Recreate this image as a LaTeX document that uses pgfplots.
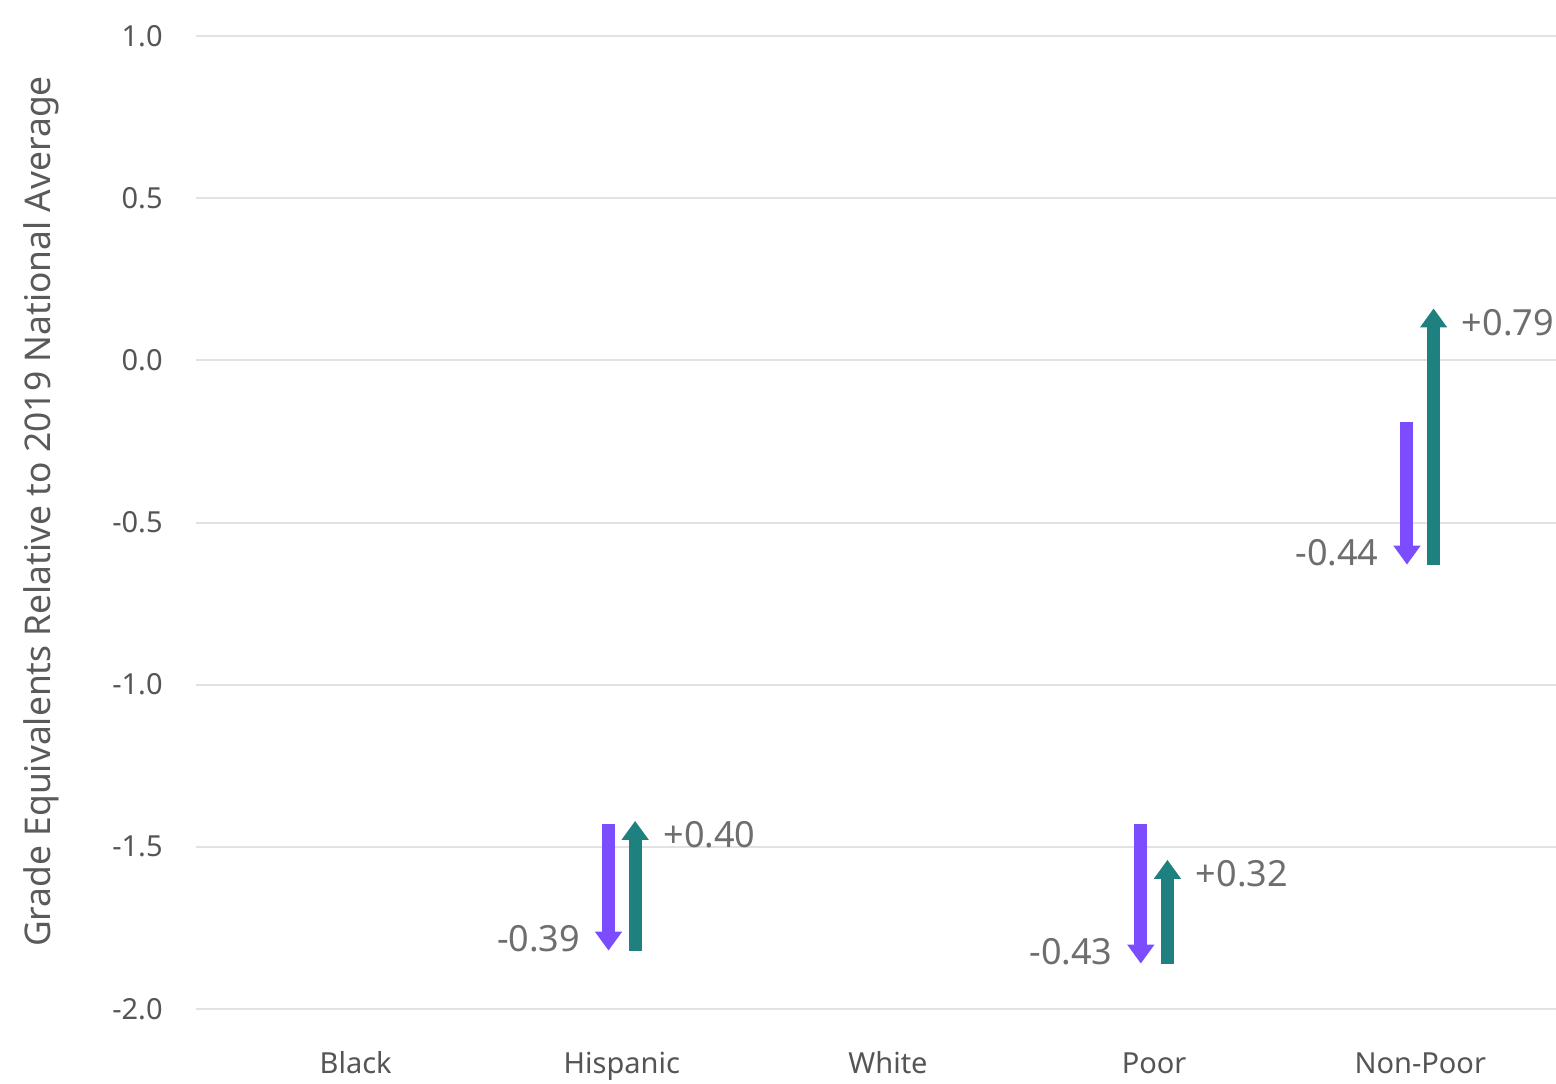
\documentclass[border=0pt]{standalone}
\usepackage{fontspec}
\setmainfont{Noto Sans}
\usepackage{pgfplots}
\usepackage{pgfplotstable}
\pgfplotsset{compat=1.18}
\usetikzlibrary{arrows.meta,calc}
\definecolor{purp}{HTML}{7C4DFF}
\definecolor{tealc}{HTML}{1F8080}
\definecolor{gridc}{HTML}{E2E2E2}
\definecolor{tickc}{HTML}{555555}
\definecolor{ylabc}{HTML}{5A5A5A}
\definecolor{labc}{HTML}{6E6E6E}

% drop (purple): start y, change dy, end, label
\pgfplotstableread{
x    y     dy     yend   label
0.95 -1.43 -0.39  -1.82  -0.39
2.95 -1.43 -0.43  -1.86  -0.43
3.95 -0.19 -0.44  -0.63  -0.44
}\drops
% rebound (teal)
\pgfplotstableread{
x    y     dy     yend   label
1.05 -1.82 0.40   -1.42  +0.40
3.05 -1.86 0.32   -1.54  +0.32
4.05 -0.63 0.79    0.16  +0.79
}\rebounds

\begin{document}
\begin{tikzpicture}
\path[use as bounding box] (-98pt,-37pt) rectangle (680pt,504.5pt);
\begin{axis}[
  scale only axis,
  width=680pt, height=486.5pt,
  xmin=-0.6, xmax=4.51, ymin=-2, ymax=1,
  axis line style={draw=none},
  major tick length=0pt,
  ymajorgrids,
  grid style={gridc, line width=1pt},
  xtick={0,1,2,3,4},
  xticklabels={Black,Hispanic,White,Poor,Non-Poor},
  ytick={-2,-1.5,-1,-0.5,0,0.5,1},
  tick label style={font=\fontsize{14.5}{16}\selectfont, text=tickc, inner sep=0pt},
  yticklabel style={/pgf/number format/.cd, fixed, fixed zerofill, precision=1, assume math mode=true},
  yticklabel shift=16.5pt,
  xticklabel style={anchor=base},
  xticklabel shift=32pt,
  ylabel={Grade Equivalents Relative to 2019 National Average},
  every axis y label/.style={at={($(axis description cs:0,0.5)+(-72.5pt,5.5pt)$)}, rotate=90, anchor=base, font=\fontsize{17.7}{20}\selectfont, text=ylabc, inner sep=0pt},
  clip=false,
]
\addplot[purp, line width=6.5pt, mark=none, -{Triangle[width=13pt,length=9.5pt]},
  quiver={u=0, v=\thisrow{dy}}] table[x=x, y=y] {\drops};
\addplot[tealc, line width=6.5pt, mark=none, -{Triangle[width=13pt,length=9.5pt]},
  quiver={u=0, v=\thisrow{dy}}] table[x=x, y=y] {\rebounds};
\addplot[draw=none, mark=none, nodes near coords, point meta=explicit symbolic,
  nodes near coords style={anchor=east, xshift=-14pt, yshift=6pt, inner sep=0pt, text=labc, font=\fontsize{18}{20}\selectfont}]
  table[x=x, y=yend, meta=label] {\drops};
\addplot[draw=none, mark=none, nodes near coords, point meta=explicit symbolic,
  nodes near coords style={anchor=west, xshift=14pt, yshift=-7pt, inner sep=0pt, text=labc, font=\fontsize{18}{20}\selectfont}]
  table[x=x, y=yend, meta=label] {\rebounds};
\end{axis}
\end{tikzpicture}
\end{document}
